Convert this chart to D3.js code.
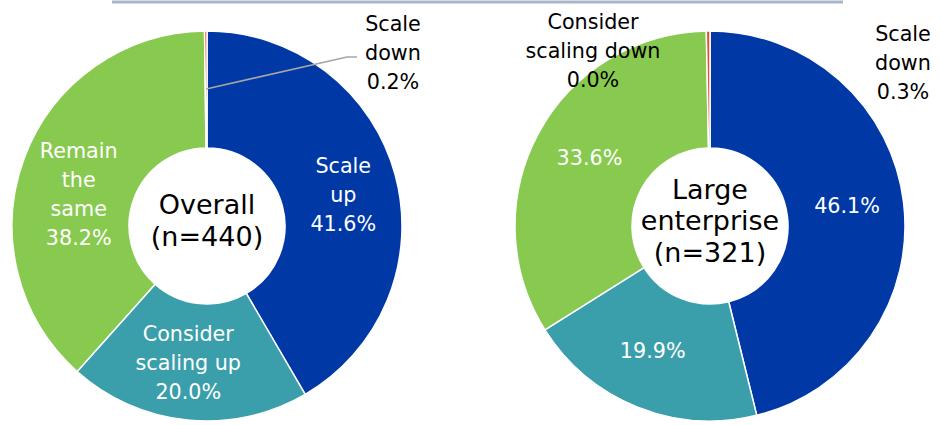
<!DOCTYPE html>
<html>
<head>
<meta charset="utf-8">
<script src="https://cdn.jsdelivr.net/npm/d3@7"></script>
<style>
  html, body { margin: 0; padding: 0; background: #fff; }
  svg { display: block; font-family: "DejaVu Sans", Verdana, sans-serif; }
</style>
</head>
<body>
<svg id="chart" width="942" height="425"></svg>
<script>
// Survey answers, in clockwise order from 12 o'clock
const categories = ["Scale up", "Consider scaling up", "Remain the same", "Consider scaling down", "Scale down"];
const overallValues = [41.6, 20.0, 38.2, 0.0, 0.2];
const largeValues = [46.1, 19.9, 33.6, 0.0, 0.3];
const sliceColors = ["#0039a6", "#3a9faa", "#88ca50", "#f0b03c", "#e2502c"];

// Donut titles
const overallTitle = ["Overall", "(n=440)"];
const largeTitle = ["Large", "enterprise", "(n=321)"];

// Line breaks used for the category names inside the Overall donut
const overallNameLines = [["Scale", "up"], ["Consider", "scaling up"], ["Remain", "the", "same"], ["Consider", "scaling down"], ["Scale", "down"]];
const largeNameLines = [[], [], [], ["Consider", "scaling down"], ["Scale", "down"]];

const svg = d3.select("#chart");
const W = 942;

const outerR = 195, innerR = 78, labelR = 137;
const lineH = 29, fontSize = 20.7;
const titleSize = 27, titleLineH = 31.5;

// top rule
svg.append("line")
  .attr("x1", 112).attr("x2", 843)
  .attr("y1", 2).attr("y2", 2)
  .attr("stroke", "#a9b6c9").attr("stroke-width", 3);

const pie = d3.pie().sort(null).value(d => d).startAngle(0).endAngle(2 * Math.PI);
const arc = d3.arc().innerRadius(innerR).outerRadius(outerR);
const labelArc = d3.arc().innerRadius(labelR).outerRadius(labelR);

const fmt = v => v.toFixed(1) + "%";

function textBlock(g, x, yFirst, lines, color, size, lh) {
  const t = g.append("text")
    .attr("text-anchor", "middle")
    .attr("fill", color)
    .attr("font-size", size);
  lines.forEach((s, i) => {
    t.append("tspan").attr("x", x).attr("y", yFirst + i * lh).text(s);
  });
  return t;
}

function drawDonut(cfg) {
  const g = svg.append("g").attr("transform", `translate(${cfg.cx},${cfg.cy})`);
  const arcs = pie(cfg.values);

  g.selectAll("path.slice")
    .data(arcs)
    .join("path")
    .attr("class", "slice")
    .attr("d", d => d.endAngle > d.startAngle ? arc(d) : null)
    .attr("fill", (d, i) => sliceColors[i])
    .attr("stroke", "#fff")
    .attr("stroke-width", 1.5)
    .attr("stroke-linejoin", "round");

  // labels inside the three large slices
  arcs.forEach((d, i) => {
    if (i > 2) return;
    const [x, y] = labelArc.centroid(d);
    const nudge = cfg.nudge[i];
    const lines = cfg.nameLines[i].concat([fmt(cfg.values[i])]);
    const cy = y + nudge[1];
    const first = cy - (lines.length - 1) * lineH / 2 + 7.5;
    textBlock(g, x + nudge[0], first, lines, "#fff", fontSize, lineH);
  });

  // labels for the thin slices near 12 o'clock
  cfg.outside.forEach(o => {
    const d = arcs[o.index];
    const lines = cfg.outsideLines[o.index].concat([fmt(cfg.values[o.index])]);
    textBlock(g, o.x, o.y, lines, "#000", fontSize, lineH);
    if (o.leader) {
      const [sx, sy] = labelArc.centroid(d);
      g.append("polyline")
        .attr("points", [[sx, sy], o.leader[0], o.leader[1]].map(p => p.join(",")).join(" "))
        .attr("fill", "none")
        .attr("stroke", "#a6a6a6")
        .attr("stroke-width", 1.6);
    }
  });

  // centre title
  const n = cfg.title.length;
  const firstT = -6 - (n - 1) * titleLineH / 2 + 10;
  textBlock(g, 0, firstT, cfg.title, "#000", titleSize, titleLineH);
}

drawDonut({
  cx: 207, cy: 226,
  values: overallValues,
  nameLines: overallNameLines,
  outsideLines: overallNameLines,
  nudge: [[4, 4], [-5, 0], [0, 16]],
  outside: [{ index: 4, x: 186, y: -195, leader: [[140, -169], [150, -169]] }],
  title: overallTitle
});

drawDonut({
  cx: 710, cy: 226,
  values: largeValues,
  nameLines: [[], [], []],
  outsideLines: largeNameLines,
  nudge: [[1, -4], [-6, -3], [0, -3]],
  outside: [
    { index: 3, x: -117, y: -197 },
    { index: 4, x: 193, y: -185 }
  ],
  title: largeTitle
});
</script>
</body>
</html>
